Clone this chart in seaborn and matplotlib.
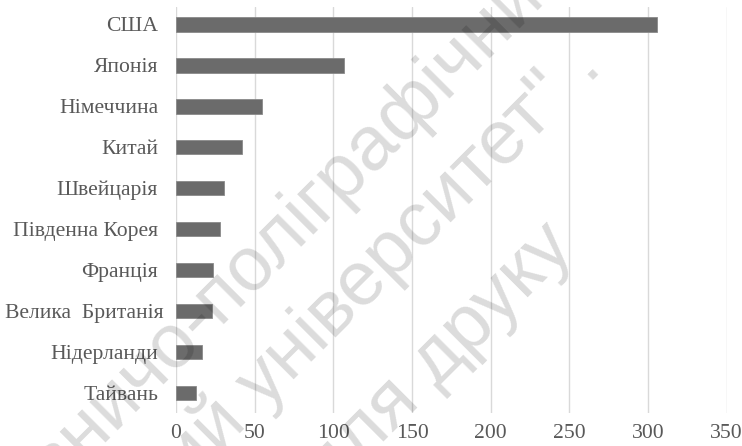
import matplotlib
matplotlib.use("Agg")
import matplotlib.pyplot as plt
import matplotlib.transforms as mtransforms
import seaborn as sns
import pandas as pd

# країни та значення
countries = ["США", "Японія", "Німеччина", "Китай", "Швейцарія",
             "Південна Корея", "Франція", "Велика  Британія", "Нідерланди", "Тайвань"]
values = [305.5, 106.8, 54.4, 41.7, 30.5, 28.0, 23.7, 23.1, 16.7, 12.4]
xticks = [0, 50, 100, 150, 200, 250, 300, 350]

# водяний знак
wm_lines = ["Видавничо-поліграфічний", "ний університет\" .", "для друку"]

sns.set_theme(style="white")
plt.rcParams["font.family"] = ["Liberation Serif", "DejaVu Serif"]

df = pd.DataFrame({"country": countries, "value": values})

W, H = 742, 446
fig = plt.figure(figsize=(W/100, H/100), dpi=100)
ax = fig.add_axes([176/W, 1-413/H, (726.7-176)/W, (413-7)/H])

sns.barplot(data=df, x="value", y="country", orient="h", color="#6b6b6b",
            width=0.35, saturation=1, edgecolor="#8a8a8a", linewidth=0.6, ax=ax)

ax.set_xlim(0, 350)
ax.set_ylim(9.49, -0.427)
ax.set_xticks(xticks)
ax.set_xticklabels([str(t) for t in xticks])
ax.xaxis.grid(True, color="#d9d9d9", linewidth=1.0)
ax.set_axisbelow(True)
for s in ax.spines.values():
    s.set_visible(False)
ax.set_xlabel("")
ax.set_ylabel("")
ax.tick_params(axis="y", length=0, pad=13, labelsize=15.6, labelcolor="#595959")
ax.tick_params(axis="x", length=0, pad=8, labelsize=15.6, labelcolor="#595959")

# довга підпис трохи виходить праворуч, як в оригіналі
for lab in ax.get_yticklabels():
    if lab.get_text().startswith("Велика"):
        lab.set_transform(lab.get_transform() +
                          mtransforms.ScaledTranslation(6/100, 0, fig.dpi_scale_trans))

# водяний знак по діагоналі (прив'язка до кінця кожного рядка)
wm_ends = [(561, -48), (590, 55), (562, 236)]
for txt, (px, py) in zip(wm_lines, wm_ends):
    fig.text(px/W, 1-py/H, txt, rotation=45, ha="right", va="center",
             fontsize=55, family=["Liberation Sans", "DejaVu Sans"],
             color="black", alpha=0.14, rotation_mode="anchor")

fig.savefig("out.png", dpi=100)
